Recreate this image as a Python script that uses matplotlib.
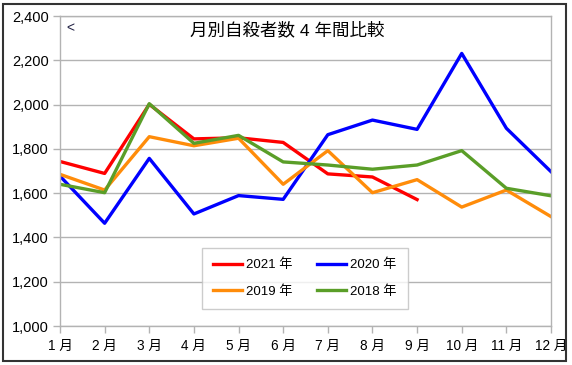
import matplotlib
matplotlib.use("Agg")
import matplotlib.pyplot as plt
from matplotlib.patches import Rectangle

plt.rcParams['font.family'] = ['Liberation Sans', 'Noto Sans CJK JP', 'DejaVu Sans']

months = ["1 月", "2 月", "3 月", "4 月", "5 月", "6 月", "7 月", "8 月", "9 月", "10 月", "11 月", "12 月"]
y2021 = [1743, 1689, 2001, 1845, 1850, 1829, 1687, 1673, 1571]
y2020 = [1677, 1464, 1757, 1506, 1589, 1572, 1864, 1930, 1888, 2231, 1893, 1697]
y2019 = [1685, 1614, 1855, 1814, 1848, 1640, 1792, 1602, 1661, 1537, 1614, 1494]
y2018 = [1640, 1602, 2004, 1825, 1861, 1741, 1727, 1708, 1727, 1792, 1622, 1588]
yticks = [1000, 1200, 1400, 1600, 1800, 2000, 2200, 2400]
title = "月別自殺者数 4 年間比較"

fig = plt.figure(figsize=(5.72, 3.65), dpi=100)
ax = fig.add_axes([60/572, 1-326/365, (551-60)/572, (326-16)/365])

grid_c = '#b3b3b3'
ax.set_ylim(1000, 2400)
ax.set_xlim(0, len(months)-1)
ax.set_yticks(yticks)
ax.set_yticklabels([f"{v:,}" for v in yticks])
ax.set_xticks(range(len(months)))
ax.set_xticklabels(months)
ax.yaxis.grid(True, color=grid_c, linewidth=1.0)
ax.set_axisbelow(True)
for s in ax.spines.values():
    s.set_color(grid_c)
    s.set_linewidth(1.0)
ax.tick_params(axis='both', colors=grid_c, labelcolor='black', length=5, width=1.0)
ax.tick_params(axis='x', pad=4, labelsize=9.8)
ax.tick_params(axis='y', pad=3, labelsize=10.5)

lw = 2.4
l21, = ax.plot(range(len(y2021)), y2021, color='#ff0000', lw=lw, label='2021 年')
l20, = ax.plot(range(len(y2020)), y2020, color='#0000ff', lw=lw, label='2020 年')
l19, = ax.plot(range(len(y2019)), y2019, color='#ff8c0a', lw=lw, label='2019 年')
l18, = ax.plot(range(len(y2018)), y2018, color='#5a9e28', lw=lw, label='2018 年')

ax.text((190-60)/491, 1-(30-16)/310, title, transform=ax.transAxes, fontsize=12.6, va='center', ha='left')
ax.text(0.012, 0.985, "<", transform=ax.transAxes, fontsize=10, va='top', ha='left', color='#222244')

leg = ax.legend(handles=[l21, l19, l20, l18], ncol=2, loc='lower left',
                bbox_to_anchor=((202-60)/491, (326-309)/310, (408-202)/491, (309-247)/310),
                mode='expand', borderaxespad=0, fontsize=9.5, frameon=True, fancybox=False,
                edgecolor='#c0c0c0', handlelength=2.2, handletextpad=0.3,
                columnspacing=1.0, borderpad=0.85, labelspacing=1.05)
leg.get_frame().set_linewidth(1.0)

fig.add_artist(Rectangle((3/572, 4/365), (566-3)/572, (361-4)/365, transform=fig.transFigure,
                         fill=False, edgecolor='#333333', linewidth=1.5))

fig.savefig('out.png', dpi=100)
